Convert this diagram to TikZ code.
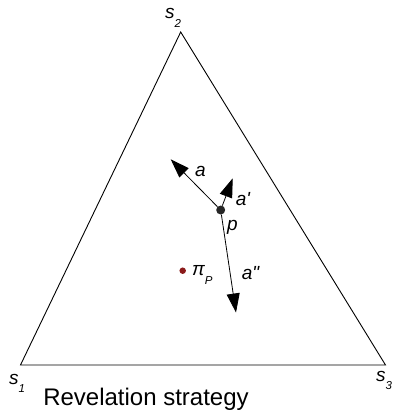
\documentclass[tikz,border=0pt]{standalone}
\usepackage{fontspec}
\setmainfont{Liberation Sans}
\usetikzlibrary{arrows.meta}
\definecolor{dotRed}{HTML}{8B1A1A}
\newcommand{\lowsub}[1]{\raisebox{-0.45em}{\fontsize{11.5}{11.5}\selectfont\itshape #1}}

\begin{document}
\begin{tikzpicture}[x=1pt,y=-1pt,
    lab/.style={inner sep=0pt,anchor=base west,font=\fontsize{19}{19}\selectfont\itshape},
    vec/.style={-{Triangle[length=19pt,width=13pt]},line width=0.8pt},
    dot/.style={circle,inner sep=0pt,minimum size=#1}]
    \useasboundingbox (0,0) rectangle (394,418);
    % simplex corners
    \coordinate (v1) at (20.5,365);
    \coordinate (v2) at (180.7,32);
    \coordinate (v3) at (385.5,365);
    \draw[line width=0.9pt] (v1)--(v2)--(v3)--cycle;
    \node[lab](s1)at(9,384){s\lowsub{1}};
    \node[lab](s2)at(165,18.5){s\lowsub{2}};
    \node[lab](s3)at(376,381){s\lowsub{3}};
    % belief p and the moves from it
    \node[dot=9pt,fill=black!85](p)at(220.7,210){};
    \coordinate (ta) at (170.7,159.3);
    \coordinate (tb) at (232.7,178.3);
    \coordinate (tc) at (236,312.5);
    \draw[vec](p)--(ta);
    \draw[vec](p)--(tb);
    \draw[vec](p)--(tc);
    \node[lab](la)at(195,176.7){a};
    \node[lab](lb)at(235.7,205){a\textquotesingle};
    \node[lab](lp)at(227,230){p};
    \node[lab](lc)at(241.7,279.3){a\textquotedbl};
    % prior
    \node[dot=6.5pt,fill=dotRed](pi)at(182.7,270.7){};
    \node[lab](lpi)at(192,275.7){π\lowsub{P}};
    \node[inner sep=0pt,anchor=base,font=\fontsize{24}{24}\selectfont](title)at(146,405){Revelation strategy};
\end{tikzpicture}
\end{document}
